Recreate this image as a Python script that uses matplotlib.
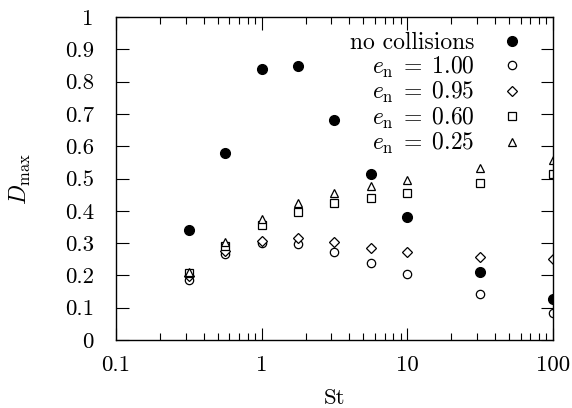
import numpy as np
import matplotlib
matplotlib.use("Agg")
import matplotlib.pyplot as plt

# Stokes numbers and D_max for each case
st = [0.316, 0.562, 1.0, 1.78, 3.16, 5.62, 10.0, 31.6, 100.0]
no_coll = [0.341, 0.578, 0.840, 0.847, 0.680, 0.513, 0.380, 0.209, 0.126]
en_100 = [0.186, 0.266, 0.299, 0.297, 0.271, 0.237, 0.204, 0.141, 0.083]
en_095 = [0.198, 0.275, 0.307, 0.315, 0.302, 0.286, 0.271, 0.257, 0.250]
en_060 = [0.208, 0.292, 0.356, 0.397, 0.423, 0.440, 0.456, 0.487, 0.514]
en_025 = [0.212, 0.304, 0.375, 0.423, 0.454, 0.476, 0.495, 0.531, 0.557]

yticks = [0, 0.1, 0.2, 0.3, 0.4, 0.5, 0.6, 0.7, 0.8, 0.9, 1]
ytick_labels = ["0", "0.1", "0.2", "0.3", "0.4", "0.5", "0.6", "0.7", "0.8", "0.9", "1"]
xticks = [0.1, 1, 10, 100]
xtick_labels = ["0.1", "1", "10", "100"]

plt.rcParams["font.family"] = "cmr10"
plt.rcParams["mathtext.fontset"] = "cm"
plt.rcParams["axes.formatter.use_mathtext"] = True

fig = plt.figure(figsize=(5.72, 4.08), dpi=100)
ax = fig.add_axes([116 / 572, 1 - 340 / 408, (553 - 116) / 572, (340 - 17) / 408])

ax.plot(st, no_coll, "o", color="black", ms=7, mec="black", label="no collisions")
ax.plot(st, en_100, "o", mfc="white", mec="black", ms=6, mew=0.9, label=r"$e_{\rm n}\;=\;1.00$")
ax.plot(st, en_095, "D", mfc="white", mec="black", ms=4.6, mew=0.9, label=r"$e_{\rm n}\;=\;0.95$")
ax.plot(st, en_060, "s", mfc="white", mec="black", ms=5.6, mew=0.9, label=r"$e_{\rm n}\;=\;0.60$")
ax.plot(st, en_025, "^", mfc="white", mec="black", ms=5.8, mew=0.9, label=r"$e_{\rm n}\;=\;0.25$")

ax.set_xscale("log")
ax.set_xlim(0.1, 100)
ax.set_ylim(0, 1)
ax.set_xticks(xticks)
ax.set_xticklabels(xtick_labels)
ax.set_yticks(yticks)
ax.set_yticklabels(ytick_labels)
ax.tick_params(which="both", direction="in", top=True, right=True, labelsize=16.5)
ax.tick_params(which="major", length=9, width=0.8)
ax.tick_params(axis="y", which="major", pad=16)
ax.tick_params(axis="x", which="major", pad=11)
ax.tick_params(which="minor", length=5, width=0.8)
ax.minorticks_on()
ax.yaxis.set_minor_locator(matplotlib.ticker.NullLocator())
for s in ax.spines.values():
    s.set_linewidth(1.0)

ax.set_xlabel("St", fontsize=16.5)
ax.xaxis.set_label_coords(0.5, -0.15)
ax.set_ylabel(r"$D_{\rm max}$", fontsize=17)
ax.yaxis.set_label_coords(-0.19, 0.5)

ax.legend(loc="upper right", markerfirst=False, frameon=False, fontsize=17,
          handlelength=1.0, handletextpad=1.1, labelspacing=0.02,
          borderaxespad=0.0, bbox_to_anchor=(0.955, 0.983))

fig.savefig("out.png", dpi=100)
